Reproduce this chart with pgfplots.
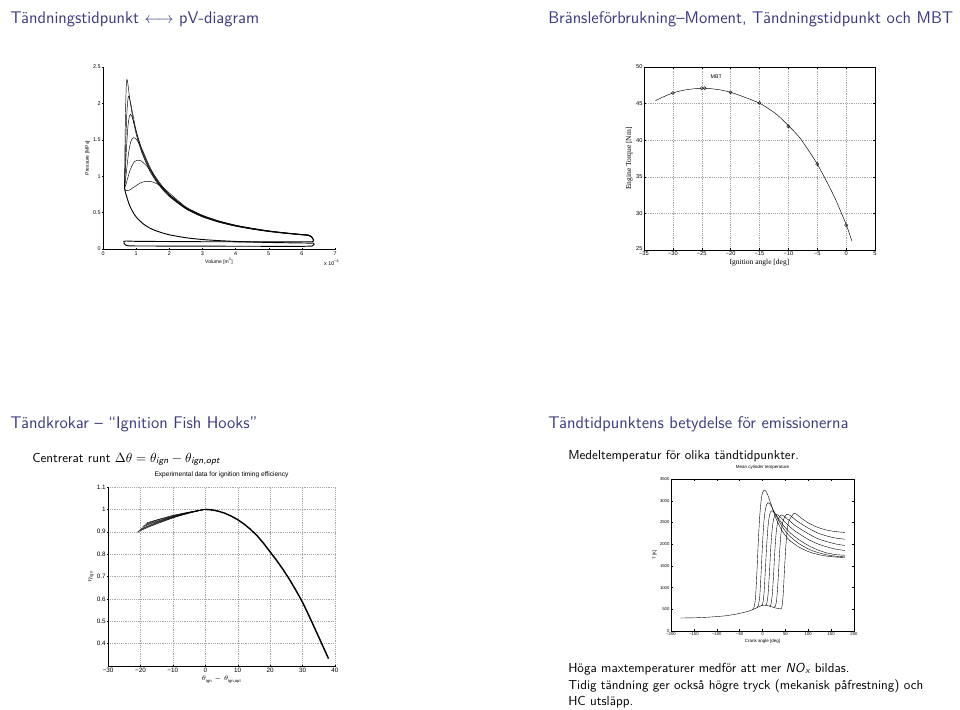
\documentclass[border=0pt]{standalone}
\usepackage{pgfplots}
\pgfplotsset{compat=1.18}
\usepackage{amsmath}
\usepackage{fontspec}
\newfontfamily\helv{Liberation Sans}
\newfontfamily\tms{Liberation Serif}
\definecolor{ttl}{RGB}{58,58,128}
\pgfplotsset{
  mat/.style={scale only axis, tick align=inside, major tick length=1.2pt,
    tick style={black, line width=0.3pt}, axis line style={line width=0.35pt},
    /pgf/number format/assume math mode=true,
    every tick label/.append style={font=\helv\fontsize{4.3}{5}\selectfont, inner sep=1pt},
    label style={font=\helv\fontsize{4.3}{5}\selectfont},
    title style={font=\helv\fontsize{4}{5}\selectfont, inner sep=1pt},
    every axis plot/.append style={black, line width=0.35pt},
  },
}
\begin{document}
\begin{tikzpicture}
\path[use as bounding box] (0,0) rectangle (256mm,189.07mm);
\begin{scope}[x=0.266667mm,y=0.266667mm]
\node[anchor=base west, inner sep=0, text=ttl, font=\sffamily\fontsize{12.8}{15}\selectfont] at (10,686) {Tändningstidpunkt $\longleftrightarrow$ pV-diagram};
\node[anchor=base west, inner sep=0, text=ttl, font=\sffamily\fontsize{12.8}{15}\selectfont] at (548,686) {Bränsleförbrukning--Moment, Tändningstidpunkt och MBT};
\node[anchor=base west, inner sep=0, text=ttl, font=\sffamily\fontsize{12.8}{15}\selectfont] at (10,281) {Tändkrokar -- ``Ignition Fish Hooks''};
\node[anchor=base west, inner sep=0, text=ttl, font=\sffamily\fontsize{12.8}{15}\selectfont] at (548,281) {Tändtidpunktens betydelse för emissionerna};
\node[anchor=base west, inner sep=0, font=\sffamily\fontsize{9.9}{12.9}\selectfont] at (32,247) {Centrerat runt $\Delta\theta = \theta_{\textsf{\itshape ign}} - \theta_{\textsf{\itshape ign,opt}}$};
\node[anchor=base west, inner sep=0, font=\sffamily\fontsize{9.9}{12.9}\selectfont] at (568,250) {Medeltemperatur för olika tändtidpunkter.};
\node[anchor=base west, inner sep=0, font=\sffamily\fontsize{9.9}{12.9}\selectfont] at (568,37) {Höga maxtemperaturer medför att mer \textit{NO}$_{\textsf{\itshape x}}$ bildas.};
\node[anchor=base west, inner sep=0, font=\sffamily\fontsize{9.9}{12.9}\selectfont] at (568,20) {Tidig tändning ger också högre tryck (mekanisk påfrestning) och};
\node[anchor=base west, inner sep=0, font=\sffamily\fontsize{9.9}{12.9}\selectfont] at (568,4) {HC utsläpp.};
\end{scope}

% ---------------- Panel 1: pV diagram
\begin{axis}[mat, at={(27.47mm,122.67mm)}, anchor=south west, width=61.87mm, height=48.53mm,
  axis lines=left, axis line style={-, line width=0.35pt},
  every tick label/.append style={font=\helv\fontsize{4.1}{5}\selectfont},
  label style={font=\helv\fontsize{3.8}{4.5}\selectfont},
  xmin=0, xmax=7, ymin=0, ymax=2.5, xtick={0,1,...,7}, ytick={0,0.5,1,1.5,2,2.5},
  yticklabels={0,0.5,1,1.5,2,2.5},
  xlabel={Volume [m\textsuperscript{3}]}, ylabel={Pressure [MPa]},
  xlabel style={yshift=2pt}, ylabel style={yshift=-2pt},
  clip=false]
\addplot[smooth, tension=0.4] coordinates {(0.65,0.83)(0.655,1.1)(0.665,1.5)(0.68,1.9)(0.70,2.22)(0.72,2.33)(0.74,2.30)(0.77,2.20)(0.8,2.08)(0.9,1.80)(1.0,1.58)(1.1,1.42)(1.2,1.29)(1.4,1.08)(1.6,0.93)(1.8,0.815)(2.0,0.72)(2.5,0.55)(3,0.44)(3.5,0.367)(4,0.312)(4.5,0.272)(5,0.239)(5.5,0.213)(6,0.192)(6.2,0.184)(6.3,0.16)(6.35,0.12)(6.33,0.10)};
\addplot[smooth, tension=0.4] coordinates {(0.65,0.83)(0.66,1.0)(0.68,1.35)(0.70,1.65)(0.72,1.88)(0.75,2.05)(0.77,2.10)(0.80,2.07)(0.85,1.97)(0.9,1.85)(1.0,1.62)(1.1,1.45)(1.2,1.31)(1.4,1.10)(1.6,0.945)(1.8,0.825)(2.0,0.73)(2.5,0.555)(3,0.446)(3.5,0.37)(4,0.316)(4.5,0.274)(5,0.241)(5.5,0.216)(6,0.194)(6.2,0.186)(6.3,0.16)(6.35,0.12)(6.33,0.10)};
\addplot[smooth, tension=0.4] coordinates {(0.65,0.83)(0.66,0.93)(0.68,1.12)(0.70,1.32)(0.73,1.55)(0.76,1.72)(0.80,1.83)(0.83,1.85)(0.87,1.82)(0.9,1.78)(1.0,1.62)(1.1,1.47)(1.2,1.33)(1.4,1.12)(1.6,0.955)(1.8,0.835)(2.0,0.735)(2.5,0.56)(3,0.45)(3.5,0.374)(4,0.319)(4.5,0.277)(5,0.244)(5.5,0.218)(6,0.196)(6.2,0.188)(6.3,0.16)(6.35,0.12)(6.33,0.10)};
\addplot[smooth, tension=0.4] coordinates {(0.65,0.83)(0.68,0.95)(0.72,1.12)(0.76,1.28)(0.80,1.40)(0.85,1.49)(0.92,1.53)(1.0,1.51)(1.1,1.44)(1.2,1.35)(1.4,1.14)(1.6,0.97)(1.8,0.845)(2.0,0.745)(2.5,0.566)(3,0.455)(3.5,0.378)(4,0.322)(4.5,0.28)(5,0.246)(5.5,0.22)(6,0.198)(6.2,0.19)(6.3,0.165)(6.35,0.125)(6.33,0.10)};
\addplot[smooth, tension=0.4] coordinates {(0.65,0.83)(0.70,0.90)(0.75,0.98)(0.80,1.06)(0.87,1.14)(0.95,1.20)(1.05,1.22)(1.15,1.21)(1.25,1.17)(1.4,1.10)(1.6,0.98)(1.8,0.855)(2.0,0.75)(2.5,0.572)(3,0.46)(3.5,0.382)(4,0.325)(4.5,0.283)(5,0.248)(5.5,0.222)(6,0.2)(6.2,0.192)(6.3,0.165)(6.35,0.125)(6.33,0.10)};
\addplot[smooth, tension=0.4] coordinates {(0.65,0.83)(0.68,0.81)(0.72,0.80)(0.80,0.81)(0.9,0.84)(1.0,0.87)(1.1,0.90)(1.2,0.92)(1.3,0.93)(1.4,0.93)(1.5,0.92)(1.6,0.90)(1.8,0.85)(2.0,0.77)(2.5,0.577)(3,0.464)(3.5,0.386)(4,0.328)(4.5,0.286)(5,0.251)(5.5,0.224)(6,0.202)(6.2,0.194)(6.3,0.168)(6.35,0.128)(6.33,0.10)};
\addplot[smooth, tension=0.4, line width=0.7pt] coordinates {(6.35,0.08)(6,0.083)(5.5,0.086)(5,0.09)(4.5,0.096)(4,0.104)(3.5,0.115)(3,0.13)(2.5,0.155)(2,0.195)(1.8,0.22)(1.6,0.25)(1.4,0.29)(1.2,0.35)(1.0,0.44)(0.9,0.51)(0.8,0.60)(0.7,0.74)(0.65,0.83)};
\addplot[line width=0.7pt] coordinates {(6.33,0.10)(5,0.098)(3,0.10)(1,0.105)(0.7,0.11)(0.63,0.105)(0.64,0.07)(0.7,0.05)(0.8,0.042)(2,0.04)(4,0.038)(6,0.036)(6.3,0.04)(6.37,0.06)(6.35,0.08)};
\node[anchor=north east, font=\helv\fontsize{4.1}{5}\selectfont, inner sep=0] at (rel axis cs:1.02,-0.06) {x 10\textsuperscript{−4}};
\end{axis}

% ---------------- Panel 2: torque vs ignition angle
\begin{axis}[mat, at={(171.73mm,122.4mm)}, anchor=south west, width=61.6mm, height=48.8mm,
  xmin=-35, xmax=5, ymin=25, ymax=50, xtick={-35,-30,...,5}, ytick={25,30,...,50},
  xticklabels={−35,−30,−25,−20,−15,−10,−5,0,5},
  yticklabels={\raisebox{2pt}{25},30,35,40,45,50},
  grid=major, major grid style={densely dotted, gray!70, line width=0.3pt},
  xlabel={Ignition angle [deg]}, ylabel={Engine Torque [Nm]},
  label style={font=\tms\fontsize{5.7}{6.5}\selectfont},
  xlabel style={yshift=2pt}, ylabel style={yshift=-2pt}]
\addplot[smooth] coordinates {(-33,45.4)(-32,45.8)(-30,46.45)(-28,46.85)(-26,47.05)(-25,47.1)(-24,47.08)(-22,46.9)(-20,46.55)(-18,46.0)(-16,45.4)(-15,45.05)(-14,44.6)(-12,43.5)(-10,42.0)(-8,40.3)(-6,38.0)(-5,36.75)(-4,35.3)(-2,32.2)(0,28.5)(1,26.2)};
\addplot[only marks, mark=o, mark size=1.2pt, mark options={line width=0.3pt}] coordinates {(-30,46.45)(-25,47.1)(-24.5,47.1)(-20,46.55)(-15,45.1)(-10,41.9)(-5,36.75)(0,28.4)};
\node[anchor=west, font=\helv\fontsize{4}{5}\selectfont, inner sep=0] at (axis cs:-23.5,48.7) {MBT};
\end{axis}

% ---------------- Panel 3: fish hooks
\begin{axis}[mat, at={(28.8mm,11.47mm)}, anchor=south west, width=60.53mm, height=47.73mm,
  axis lines=left, axis line style={-, line width=0.35pt},
  every tick label/.append style={font=\helv\fontsize{4.8}{5.5}\selectfont},
  label style={font=\helv\fontsize{4.5}{5.5}\selectfont},
  title style={font=\helv\fontsize{5}{6}\selectfont},
  xmin=-30, xmax=40, ymin=0.3, ymax=1.1, xtick={-30,-20,...,40}, ytick={0.4,0.5,...,1.1},
  xticklabels={−30,−20,−10,0,10,20,30,40}, yticklabels={0.4,0.5,0.6,0.7,0.8,0.9,1,1.1},
  grid=major, major grid style={densely dotted, gray!70, line width=0.3pt},
  title={Experimental data for ignition timing efficiency},
  xlabel={$\theta_{\text{ign}}-\theta_{\text{ign,opt}}$}, ylabel={$\eta_{\text{ign}}$},
  xlabel style={yshift=2pt}, ylabel style={yshift=-2pt}]
\addplot[line width=1.1pt] coordinates {(0,1.0)(2,0.998)(4,0.992)(6,0.983)(8,0.97)(10,0.954)(12,0.934)(14,0.91)(16,0.882)(18,0.848)(20,0.81)(22,0.772)(24,0.731)(26,0.686)(28,0.637)(30,0.585)(32,0.524)(34,0.461)(36,0.397)(38,0.333)};
\addplot[smooth] coordinates {(-21,0.898)(-18,0.918)(-15,0.935)(-10,0.962)(-6,0.979)(-3,0.990)(-1,0.997)(0,1.0)(2,0.998)};
\addplot[smooth] coordinates {(-20.5,0.905)(-18,0.921)(-15,0.938)(-10,0.963)(-6,0.980)(-3,0.991)(-1,0.997)(0,1.0)(2,0.998)};
\addplot[smooth] coordinates {(-20,0.912)(-18,0.924)(-15,0.941)(-10,0.965)(-6,0.981)(-3,0.991)(-1,0.997)(0,1.0)(2,0.998)};
\addplot[smooth] coordinates {(-19.5,0.92)(-17,0.935)(-15,0.944)(-10,0.967)(-6,0.982)(-3,0.992)(-1,0.998)(0,1.0)(2,0.998)};
\addplot[smooth] coordinates {(-19,0.927)(-17,0.938)(-15,0.947)(-10,0.969)(-6,0.983)(-3,0.992)(-1,0.998)(0,1.0)(2,0.998)};
\addplot[smooth] coordinates {(-18.5,0.934)(-17,0.941)(-15,0.951)(-10,0.971)(-6,0.984)(-3,0.993)(-1,0.998)(0,1.0)(2,0.998)};
\addplot[smooth] coordinates {(-18,0.94)(-15,0.953)(-10,0.973)(-6,0.985)(-3,0.993)(-1,0.998)(0,1.0)(2,0.998)};
\end{axis}

% ---------------- Panel 4: mean cylinder temperature
\begin{axis}[mat, at={(178.93mm,20.8mm)}, anchor=south west, width=48.8mm, height=40.53mm,
  xmin=-200, xmax=200, ymin=0, ymax=3500, xtick={-200,-150,...,200}, ytick={0,500,...,3500},
  xticklabels={−200,−150,−100,−50,0,50,100,150,200},
  yticklabels={0,500,1000,1500,2000,2500,3000,3500},
  every tick label/.append style={font=\helv\fontsize{3.2}{4}\selectfont},
  label style={font=\helv\fontsize{3.4}{4}\selectfont},
  title style={font=\helv\fontsize{3.4}{4}\selectfont},
  title={Mean cylinder temperature}, xlabel={Crank angle [deg]}, ylabel={T [K]},
  xlabel style={yshift=2pt}, ylabel style={yshift=-2pt},
  every axis plot/.append style={line width=0.3pt}]
\addplot[smooth, tension=0.4] coordinates {(-180,300)(-160,302)(-140,308)(-120,318)(-100,332)(-80,352)(-60,385)(-40,430)(-30,458)(-22,490)(-18,508)(-15,522)(-12,540)(-9,555)(-6,568)(-3,580)(0,590)(3,594)(6,593)(10,588)(15,575)(20,560)(24,545)(28,532)(33,520)};
\addplot[smooth, tension=0.4] coordinates {(-22,490)(-18,560)(-15,800)(-12,1400)(-9,2100)(-6,2650)(-3,3000)(0,3180)(4,3245)(8,3210)(12,3120)(16,3000)(20,2880)(25,2720)(30,2580)(40,2360)(50,2200)(60,2080)(80,1930)(100,1830)(120,1765)(140,1725)(160,1703)(180,1692)};
\addplot[smooth, tension=0.4] coordinates {(-12,540)(-9,590)(-6,800)(-3,1350)(0,2000)(3,2500)(6,2780)(9,2910)(12,2955)(15,2940)(19,2880)(25,2760)(30,2650)(40,2460)(50,2300)(60,2180)(80,2010)(100,1890)(120,1810)(140,1755)(160,1723)(180,1708)};
\addplot[smooth, tension=0.4] coordinates {(-3,580)(0,610)(3,820)(6,1350)(9,1950)(12,2400)(15,2650)(18,2750)(21,2770)(24,2750)(28,2700)(35,2590)(45,2440)(55,2320)(65,2220)(80,2100)(100,1970)(120,1870)(140,1800)(160,1760)(180,1745)};
\addplot[smooth, tension=0.4] coordinates {(6,593)(9,620)(12,820)(15,1300)(18,1900)(21,2330)(24,2560)(27,2660)(30,2685)(34,2670)(40,2610)(50,2500)(60,2400)(70,2310)(80,2240)(100,2110)(120,2010)(140,1940)(160,1885)(180,1855)};
\addplot[smooth, tension=0.4] coordinates {(15,575)(18,595)(21,790)(24,1250)(27,1850)(30,2270)(33,2500)(36,2610)(40,2670)(44,2665)(50,2620)(60,2530)(70,2440)(80,2370)(100,2240)(120,2130)(140,2060)(160,2005)(180,1970)};
\addplot[smooth, tension=0.4] coordinates {(24,545)(28,570)(31,720)(34,1150)(37,1750)(40,2200)(43,2450)(46,2570)(50,2650)(53,2690)(57,2680)(62,2650)(70,2580)(80,2500)(100,2370)(120,2260)(140,2190)(160,2140)(180,2115)};
\addplot[smooth, tension=0.4] coordinates {(33,520)(38,512)(42,530)(45,800)(48,1400)(51,1950)(54,2330)(57,2510)(61,2600)(65,2660)(69,2710)(73,2700)(78,2660)(85,2600)(100,2490)(120,2390)(140,2325)(160,2290)(180,2270)};
\end{axis}
\end{tikzpicture}
\end{document}
